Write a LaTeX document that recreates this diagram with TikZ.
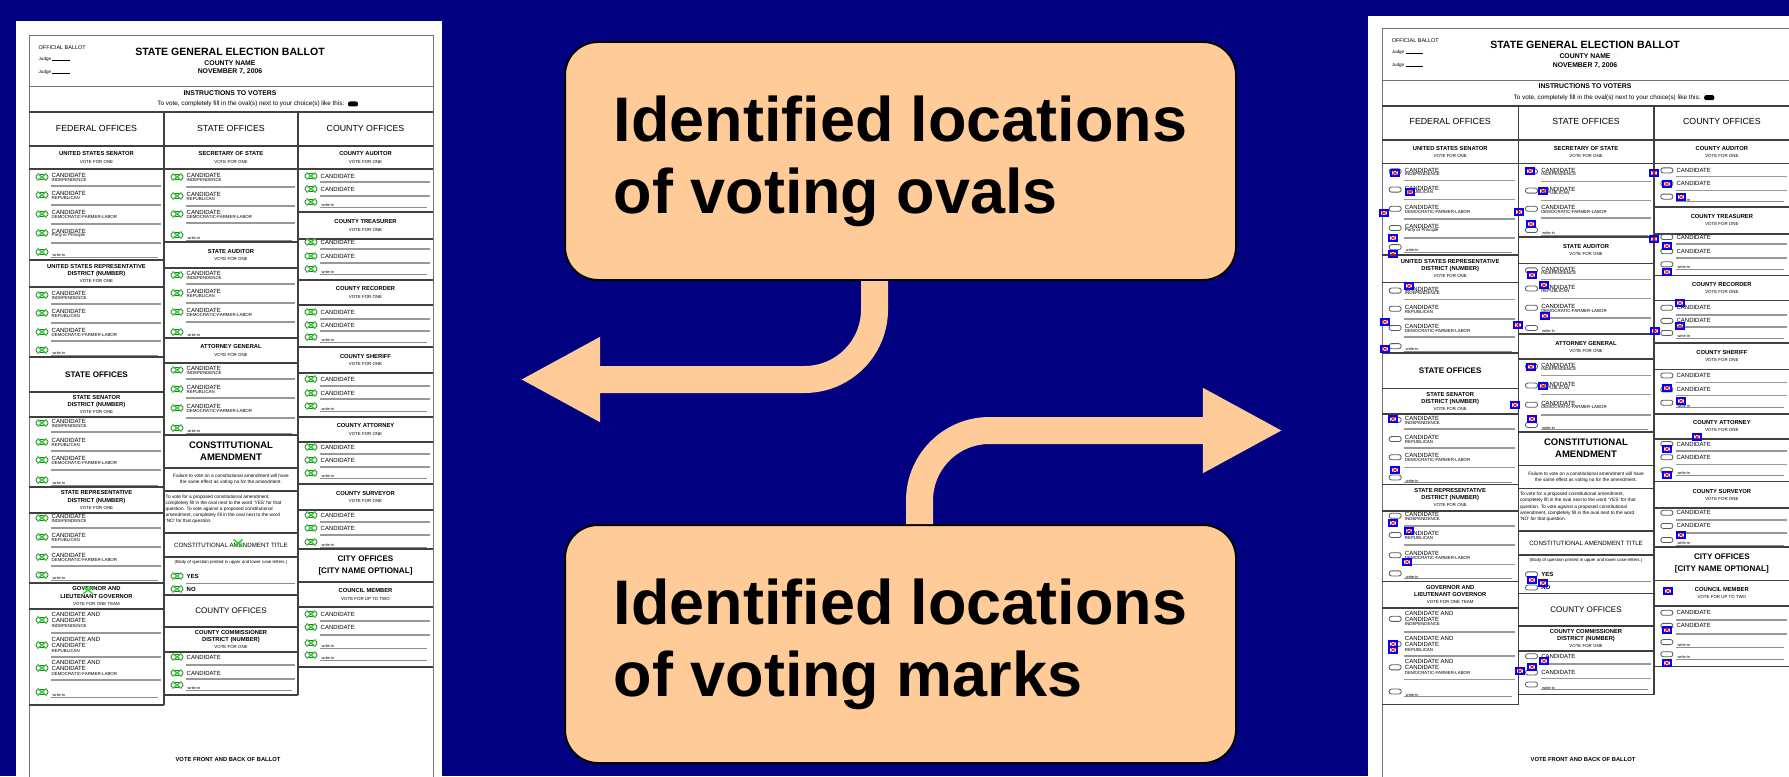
\documentclass[tikz,border=0pt]{standalone}
\usepackage{fontspec}
\setmainfont{Liberation Sans}
\usetikzlibrary{arrows.meta,positioning}

\definecolor{slidebg}{RGB}{0,0,128}
\definecolor{peach}{RGB}{255,204,153}
\definecolor{markgreen}{RGB}{40,215,40}

\newdimen\bpx
\bpx=0.01cm

\newcommand{\fs}[2]{\fontsize{#1}{#2}\selectfont}
\newcommand{\vfo}[1]{{\mdseries\fs{1.25}{1.9}#1}}

\tikzset{
  frame/.style={draw=black!55, line width=1\bpx},
  blk/.style={draw=black!75, line width=1.6\bpx},
  rowsep/.style={draw=black!40, line width=1.6\bpx},
  thinrule/.style={draw=black!45, line width=0.6\bpx},
  ballotoval/.style={draw=black!65, line width=0.8\bpx, rounded corners=2.4\bpx},
  greenx/.style={draw=markgreen, line width=1.4\bpx},
  hitbox/.style={draw=blue, line width=1.2\bpx},
  hitx/.style={draw=red, line width=0.8\bpx},
  ttl/.style={inner sep=0pt, font=\bfseries\fs{3}{3.5}},
  subttl/.style={inner sep=0pt, font=\bfseries\fs{1.95}{2.3}},
  hdrsmall/.style={inner sep=0pt, anchor=west, font=\fs{1.55}{1.8}},
  colttl/.style={inner sep=0pt, font=\fs{2.5}{3}},
  office/.style={inner sep=0pt, align=center, font=\bfseries\fs{1.65}{2}},
  bigtitle/.style={inner sep=0pt, align=center, font=\bfseries\fs{2.3}{3.4}},
  bigplain/.style={inner sep=0pt, align=center, font=\fs{2.3}{3}},
  amendttl/.style={inner sep=0pt, align=center, font=\bfseries\fs{2.7}{3.4}},
  plaintitle/.style={inner sep=0pt, align=center, font=\fs{1.75}{2}},
  note/.style={inner sep=0pt, align=center, font=\fs{1.35}{1.75}},
  candname/.style={inner sep=0pt, anchor=west, font=\fs{1.7}{2}},
  party/.style={inner sep=0pt, anchor=west, font=\fs{1.25}{1.5}},
  writeintext/.style={inner sep=0pt, anchor=west, font=\fs{1.1}{1.3}},
  footer/.style={inner sep=0pt, font=\bfseries\fs{1.65}{2}},
  callout/.style={draw=black, line width=2\bpx, fill=peach, rounded corners=33\bpx,
    minimum width=671\bpx, minimum height=238\bpx, align=left,
    font=\bfseries\fs{17.9}{20.5}},
  flow/.style={draw=peach, line width=7.68pt, rounded corners=19.9pt,
    -{Triangle[length=22.8pt,width=22.5pt]}}
}

% ballot pieces, in pixels from the frame corner
\newcommand{\setcol}[2]{\def\colx{#1}\def\colw{#2}}
\newcommand{\ovalextra}[2]{}
\newcommand{\greenx}[2]{%
  \draw[greenx] ({#1-4.5},{#2-3.5}) -- ({#1+4.5},{#2+3.5})
                ({#1-4.5},{#2+3.5}) -- ({#1+4.5},{#2-3.5});}
\newcommand{\hitmark}[2]{%
  \draw[hitbox] ({#1-4},{#2-3}) rectangle ({#1+4},{#2+3});
  \draw[hitx] ({#1-2.5},{#2-2}) -- ({#1+2.5},{#2+2})
              ({#1-2.5},{#2+2}) -- ({#1+2.5},{#2-2});}
\newcommand{\voteoval}[2]{%
  \draw[ballotoval] ({#1-6},{#2-2.5}) rectangle ({#1+6},{#2+2.5});
  \ovalextra{#1}{#2}}
\newcommand{\cand}[3]{%
  \voteoval{\colx+13}{#1}
  \node[candname] at ({\colx+22},{#1-1.3}) {CANDIDATE};
  \node[party] at ({\colx+22},{#1+2.7}) {#3};
  \draw[rowsep] ({\colx+22},#2) -- ({\colx+\colw-3},#2);}
\newcommand{\team}[3]{%
  \voteoval{\colx+13}{#1}
  \node[candname] at ({\colx+22},{#1-5.5}) {CANDIDATE AND};
  \node[candname] at ({\colx+22},{#1+0.5}) {CANDIDATE};
  \node[party] at ({\colx+22},{#1+5.5}) {#3};
  \draw[rowsep] ({\colx+22},#2) -- ({\colx+\colw-3},#2);}
\newcommand{\candone}[2]{%
  \voteoval{\colx+13}{#1}
  \node[candname] at ({\colx+22},#1) {CANDIDATE};
  \draw[rowsep] ({\colx+22},#2) -- ({\colx+\colw-3},#2);}
\newcommand{\writein}[1]{%
  \voteoval{\colx+13}{#1}
  \node[writeintext] at ({\colx+23},{#1+3.2}) {write-in};
  \draw[thinrule] ({\colx+22},{#1+4.8}) -- ({\colx+\colw-6},{#1+4.8});}
\newcommand{\yesno}[3]{%
  \voteoval{\colx+13}{#1}
  \node[candname, font=\bfseries\fs{1.7}{2}] at ({\colx+22},#1) {#3};
  \draw[thinrule] ({\colx+22},#2) -- ({\colx+\colw-3},#2);}
\newcommand{\officeblk}[4][office]{%
  \draw[blk] (\colx,#2) -- ++(\colw,0) (\colx,#3) -- ++(\colw,0);
  \node[#1] at ({\colx+\colw/2},{(#2+#3)/2}) {#4};}

\newcommand{\drawballot}{%
  % frame and header
  \draw[frame] (0,800) -- (0,0) -- (404,0) -- (404,800);
  \draw[frame] (0,51) -- (404,51);
  \draw[blk] (0,76) -- (404,76) (0,110) -- (404,110);
  \draw[blk] (135,76) -- (135,669) (269,76) -- (269,659);
  \node[hdrsmall] at (9,12) {OFFICIAL BALLOT};
  \node[hdrsmall, font=\fs{1.3}{1.5}] at (9,23) {Judge \rule{5pt}{0.15pt}};
  \node[hdrsmall, font=\fs{1.3}{1.5}] at (9,36) {Judge \rule{5pt}{0.15pt}};
  \node[ttl] at (201,16) {STATE GENERAL ELECTION BALLOT};
  \node[subttl] at (201,27) {COUNTY NAME};
  \node[subttl] at (201,36) {NOVEMBER 7, 2006};
  \node[subttl] at (201,57) {INSTRUCTIONS TO VOTERS};
  \node[hdrsmall, anchor=east, font=\fs{1.8}{2}] at (316,68)
    {To vote, completely fill in the oval(s) next to your choice(s) like this:};
  \fill[black, rounded corners=2\bpx] (319,65.5) rectangle (329,70.5);
  \node[colttl] at (67.5,92) {FEDERAL OFFICES};
  \node[colttl] at (202,92) {STATE OFFICES};
  \node[colttl] at (336.5,92) {COUNTY OFFICES};
  % federal column
  \setcol{0}{135}
  \officeblk{110}{133}{UNITED STATES SENATOR\\\vfo{VOTE FOR ONE}}
  \cand{141}{150}{INDEPENDENCE}
  \cand{159}{169}{REPUBLICAN}
  \cand{178}{188}{DEMOCRATIC-FARMER-LABOR}
  \cand{197}{207}{Party or Principle}
  \writein{216}
  \officeblk{224}{251}{UNITED STATES REPRESENTATIVE\\DISTRICT (NUMBER)\\\vfo{VOTE FOR ONE}}
  \cand{259}{268}{INDEPENDENCE}
  \cand{277}{287}{REPUBLICAN}
  \cand{296}{305}{DEMOCRATIC-FARMER-LABOR}
  \writein{314}
  \officeblk[bigtitle]{321}{356}{STATE OFFICES}
  \officeblk{356}{381}{STATE SENATOR\\DISTRICT (NUMBER)\\\vfo{VOTE FOR ONE}}
  \cand{387}{396}{INDEPENDENCE}
  \cand{406}{415}{REPUBLICAN}
  \cand{424}{434}{DEMOCRATIC-FARMER-LABOR}
  \writein{444}
  \officeblk{451}{477}{STATE REPRESENTATIVE\\DISTRICT (NUMBER)\\\vfo{VOTE FOR ONE}}
  \cand{482}{492}{INDEPENDENCE}
  \cand{501}{511}{REPUBLICAN}
  \cand{521}{530}{DEMOCRATIC-FARMER-LABOR}
  \writein{539}
  \officeblk{547}{573}{GOVERNOR AND\\LIEUTENANT GOVERNOR\\\vfo{VOTE FOR ONE TEAM}}
  \team{584}{597}{INDEPENDENCE}
  \team{609}{621}{REPUBLICAN}
  \team{632}{644}{DEMOCRATIC-FARMER-LABOR}
  \writein{656}
  \draw[blk] (0,669) -- (135,669);
  % state column
  \setcol{135}{134}
  \officeblk{110}{133}{SECRETARY OF STATE\\\vfo{VOTE FOR ONE}}
  \cand{141}{151}{INDEPENDENCE}
  \cand{160}{170}{REPUBLICAN}
  \cand{178}{187}{DEMOCRATIC-FARMER-LABOR}
  \writein{199}
  \officeblk{206}{232}{STATE AUDITOR\\\vfo{VOTE FOR ONE}}
  \cand{239}{248}{INDEPENDENCE}
  \cand{257}{267}{REPUBLICAN}
  \cand{276}{286}{DEMOCRATIC-FARMER-LABOR}
  \writein{296}
  \officeblk{302}{327}{ATTORNEY GENERAL\\\vfo{VOTE FOR ONE}}
  \cand{334}{343}{INDEPENDENCE}
  \cand{353}{362}{REPUBLICAN}
  \cand{372}{382}{DEMOCRATIC-FARMER-LABOR}
  \writein{392}
  \officeblk[amendttl]{399}{432}{CONSTITUTIONAL\\AMENDMENT}
  \officeblk[note]{432}{455}{Failure to vote on a constitutional amendment will have\\the same effect as voting no for the amendment.}
  \node[note, anchor=north west, align=left] at (136,458)
    {To vote for a proposed constitutional amendment,\\completely fill in the oval next to the word `YES' for that\\question. To vote against a proposed constitutional\\amendment, completely fill in the oval next to the word\\`NO' for that question.};
  \officeblk[plaintitle]{497}{521}{CONSTITUTIONAL AMENDMENT TITLE}
  \node[note, font=\fs{1.25}{1.5}] at (202,526) {(Body of question printed in upper and lower case letters.)};
  \yesno{540}{547}{YES}
  \yesno{553}{559}{NO}
  \officeblk[bigplain]{559}{591}{COUNTY OFFICES}
  \officeblk{591}{616}{COUNTY COMMISSIONER\\DISTRICT (NUMBER)\\\vfo{VOTE FOR ONE}}
  \candone{621}{629}
  \candone{637}{643}
  \writein{649}
  \draw[blk] (135,659) -- (269,659);
  % county column
  \setcol{269}{135}
  \officeblk{110}{133}{COUNTY AUDITOR\\\vfo{VOTE FOR ONE}}
  \candone{140}{146} \candone{153}{160} \writein{166}
  \officeblk{176}{203}{COUNTY TREASURER\\\vfo{VOTE FOR ONE}}
  \candone{206}{213} \candone{220}{227} \writein{233}
  \officeblk{244}{269}{COUNTY RECORDER\\\vfo{VOTE FOR ONE}}
  \candone{276}{283} \candone{289}{295} \writein{301}
  \officeblk{311}{337}{COUNTY SHERIFF\\\vfo{VOTE FOR ONE}}
  \candone{343}{350} \candone{357}{363} \writein{370}
  \officeblk{381}{406}{COUNTY ATTORNEY\\\vfo{VOTE FOR ONE}}
  \candone{411}{418} \candone{424}{431} \writein{437}
  \officeblk{448}{474}{COUNTY SURVEYOR\\\vfo{VOTE FOR ONE}}
  \candone{479}{486} \candone{492}{499} \writein{506}
  \officeblk[bigtitle]{513}{546}{CITY OFFICES\\{[}CITY NAME OPTIONAL{]}}
  \officeblk{546}{571}{COUNCIL MEMBER\\\vfo{VOTE FOR UP TO TWO}}
  \candone{578}{585} \candone{591}{599} \writein{607} \writein{619}
  \draw[blk] (269,631) -- (404,631);
  \node[footer] at (199,723) {VOTE FRONT AND BACK OF BALLOT};
}

\begin{document}
\begin{tikzpicture}[x=0.01cm, y=-0.01cm]
\useasboundingbox (0,0) rectangle (1789,776);
\clip (0,0) rectangle (1789,776);
\fill[slidebg] (0,0) rectangle (1789,776);

% the two ballot pages
\fill[white] (16,21) rectangle (442,790);
\fill[white] (1368,16) rectangle (1800,790);

\begin{scope}[shift={(29,36)}]
  \renewcommand{\ovalextra}[2]{\greenx{#1}{#2}}
  \drawballot
  \greenx{59}{554}
  \greenx{209}{507}
\end{scope}

\begin{scope}[shift={(1382,29)}, scale=1.01]
  \drawballot
  \foreach \mx/\my in {13/144, 28/163, 2/184, 11/209, 11/225, 148/142, 161/162,
      137/183, 149/195, 272/144, 285/155, 299/168, 272/210, 285/217, 285/243,
      150/246, 27/257, 3/293, 3/320, 162/256, 163/287, 136/296, 298/274,
      298/297, 273/302, 149/338, 161/357, 133/376, 150/390, 285/359, 299/372,
      315/408, 285/420, 285/446, 11/390, 13/441, 11/494, 27/502, 25/533,
      299/506, 286/562, 150/551, 161/554, 285/601, 285/634, 11/615, 11/621,
      162/632, 150/638, 138/642}
    {\hitmark{\mx/1.01}{\my/1.01}}
\end{scope}

% callouts
\node[callout] (ovals) at (900.5,161) {Identified locations\\of voting ovals};
\node[callout] (marks) at (900.5,644) {Identified locations\\of voting marks};

\coordinate (lefttip) at (520,379.5);
\coordinate (righttip) at (1283,430.5);

\draw[flow] ([xshift=-26\bpx]ovals.south) |- (lefttip);
\draw[flow] ([xshift=19\bpx]marks.north) |- (righttip);

\end{tikzpicture}
\end{document}
